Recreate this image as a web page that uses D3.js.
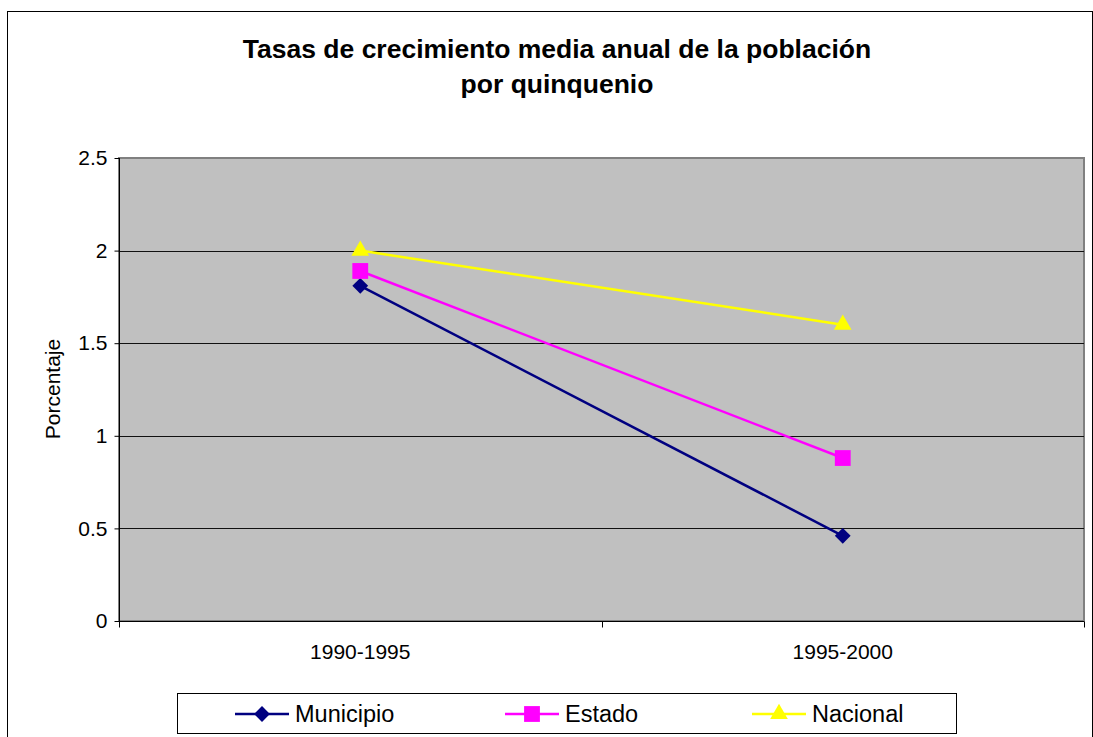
<!DOCTYPE html>
<html>
<head>
<meta charset="utf-8">
<script src="https://cdn.jsdelivr.net/npm/d3@7"></script>
<style>
  body { margin: 0; background: #fff; }
  text { font-family: "Liberation Sans", Arial, sans-serif; }
</style>
</head>
<body>
<div id="chart"></div>
<script>
// data
var periods = ["1990-1995", "1995-2000"];
var municipio = [1.81, 0.46];
var estado = [1.89, 0.88];
var nacional = [2.0, 1.6];
var yTicks = [0, 0.5, 1, 1.5, 2, 2.5];

// diamond = square turned 45deg (excel style)
var series = [
  {name: "Municipio", values: municipio, color: "#000080", symbol: d3.symbolSquare, size: 125, rot: 45},
  {name: "Estado", values: estado, color: "#ff00ff", symbol: d3.symbolSquare, size: 250, rot: 0},
  {name: "Nacional", values: nacional, color: "#ffff00", symbol: d3.symbolTriangle, size: 135, rot: 0}
];

var W = 1093, H = 737;
var plot = {left: 119, top: 158, right: 1084, bottom: 621};

var svg = d3.select("#chart").append("svg")
  .attr("width", W).attr("height", H);

// outer chart border
svg.append("rect")
  .attr("x", 7.5).attr("y", 11.5)
  .attr("width", W - 8).attr("height", H)
  .attr("fill", "#fff").attr("stroke", "#000").attr("stroke-width", 1);

// title
var title = svg.append("text")
  .attr("text-anchor", "middle")
  .attr("font-weight", "bold")
  .attr("font-size", "26.5px");
title.append("tspan").attr("x", 557).attr("y", 58).text("Tasas de crecimiento media anual de la población");
title.append("tspan").attr("x", 557).attr("y", 93).text("por quinquenio");

var x = d3.scaleBand().domain(periods).range([plot.left, plot.right]);
var y = d3.scaleLinear().domain([0, 2.5]).range([plot.bottom, plot.top]);

// plot background
svg.append("rect")
  .attr("x", plot.left).attr("y", plot.top)
  .attr("width", plot.right - plot.left).attr("height", plot.bottom - plot.top)
  .attr("fill", "#c0c0c0")
  .attr("stroke", "#808080").attr("stroke-width", 2);

// gridlines
svg.append("g").selectAll("line")
  .data(yTicks.filter(function(d) { return d > 0 && d < 2.5; }))
  .enter().append("line")
  .attr("x1", plot.left).attr("x2", plot.right)
  .attr("y1", function(d) { return Math.round(y(d)) + 0.5; })
  .attr("y2", function(d) { return Math.round(y(d)) + 0.5; })
  .attr("stroke", "#111").attr("stroke-width", 1);

// y axis
var yAxis = svg.append("g")
  .attr("transform", "translate(" + (plot.left + 0.5) + ",0)")
  .call(d3.axisLeft(y).tickValues(yTicks).tickFormat(function(d) { return d; }).tickSize(5).tickPadding(7));
yAxis.select(".domain").attr("stroke", "#000").attr("d", "M0," + plot.top + "V" + plot.bottom);
yAxis.selectAll("text").attr("font-size", "21px").attr("fill", "#000").attr("font-family", "Liberation Sans, Arial, sans-serif");

// x axis (ticks at category boundaries)
var xAxis = svg.append("g")
  .attr("transform", "translate(0," + (plot.bottom + 0.5) + ")");
xAxis.append("line")
  .attr("x1", plot.left).attr("x2", plot.right)
  .attr("stroke", "#000");
var bounds = [plot.left, plot.left + x.bandwidth(), plot.right];
xAxis.selectAll(".tk").data(bounds).enter().append("line")
  .attr("x1", function(d) { return Math.round(d) + 0.5; })
  .attr("x2", function(d) { return Math.round(d) + 0.5; })
  .attr("y1", 0).attr("y2", 6).attr("stroke", "#000");
xAxis.selectAll("text").data(periods).enter().append("text")
  .attr("x", function(d) { return x(d) + x.bandwidth() / 2; })
  .attr("y", 37)
  .attr("text-anchor", "middle")
  .attr("font-size", "21px")
  .text(function(d) { return d; });

// y label
svg.append("text")
  .attr("transform", "translate(60,389) rotate(-90)")
  .attr("text-anchor", "middle")
  .attr("font-size", "21px")
  .text("Porcentaje");

// lines + markers
var line = d3.line()
  .x(function(d, i) { return x(periods[i]) + x.bandwidth() / 2; })
  .y(function(d) { return y(d); });

series.forEach(function(s) {
  svg.append("path")
    .datum(s.values)
    .attr("d", line)
    .attr("fill", "none")
    .attr("stroke", s.color)
    .attr("stroke-width", 2.5);
});
series.forEach(function(s) {
  svg.append("g").selectAll("path")
    .data(s.values).enter().append("path")
    .attr("transform", function(d, i) {
      return "translate(" + (x(periods[i]) + x.bandwidth() / 2) + "," + y(d) + ") rotate(" + s.rot + ")";
    })
    .attr("d", d3.symbol().type(s.symbol).size(s.size))
    .attr("fill", s.color);
});

// legend
var lg = svg.append("g");
lg.append("rect")
  .attr("x", 177.5).attr("y", 693.5)
  .attr("width", 779).attr("height", 40)
  .attr("fill", "#fff").attr("stroke", "#000");
var legendX = [235, 505, 752];
series.forEach(function(s, i) {
  var g = lg.append("g").attr("transform", "translate(" + legendX[i] + ",714)");
  g.append("line").attr("x1", 0).attr("x2", 54)
    .attr("stroke", s.color).attr("stroke-width", 2.5);
  g.append("path").attr("transform", "translate(27,0) rotate(" + s.rot + ")")
    .attr("d", d3.symbol().type(s.symbol).size(s.size)).attr("fill", s.color);
  g.append("text").attr("x", 60).attr("y", 8)
    .attr("font-size", "23.5px")
    .text(s.name);
});
</script>
</body>
</html>
